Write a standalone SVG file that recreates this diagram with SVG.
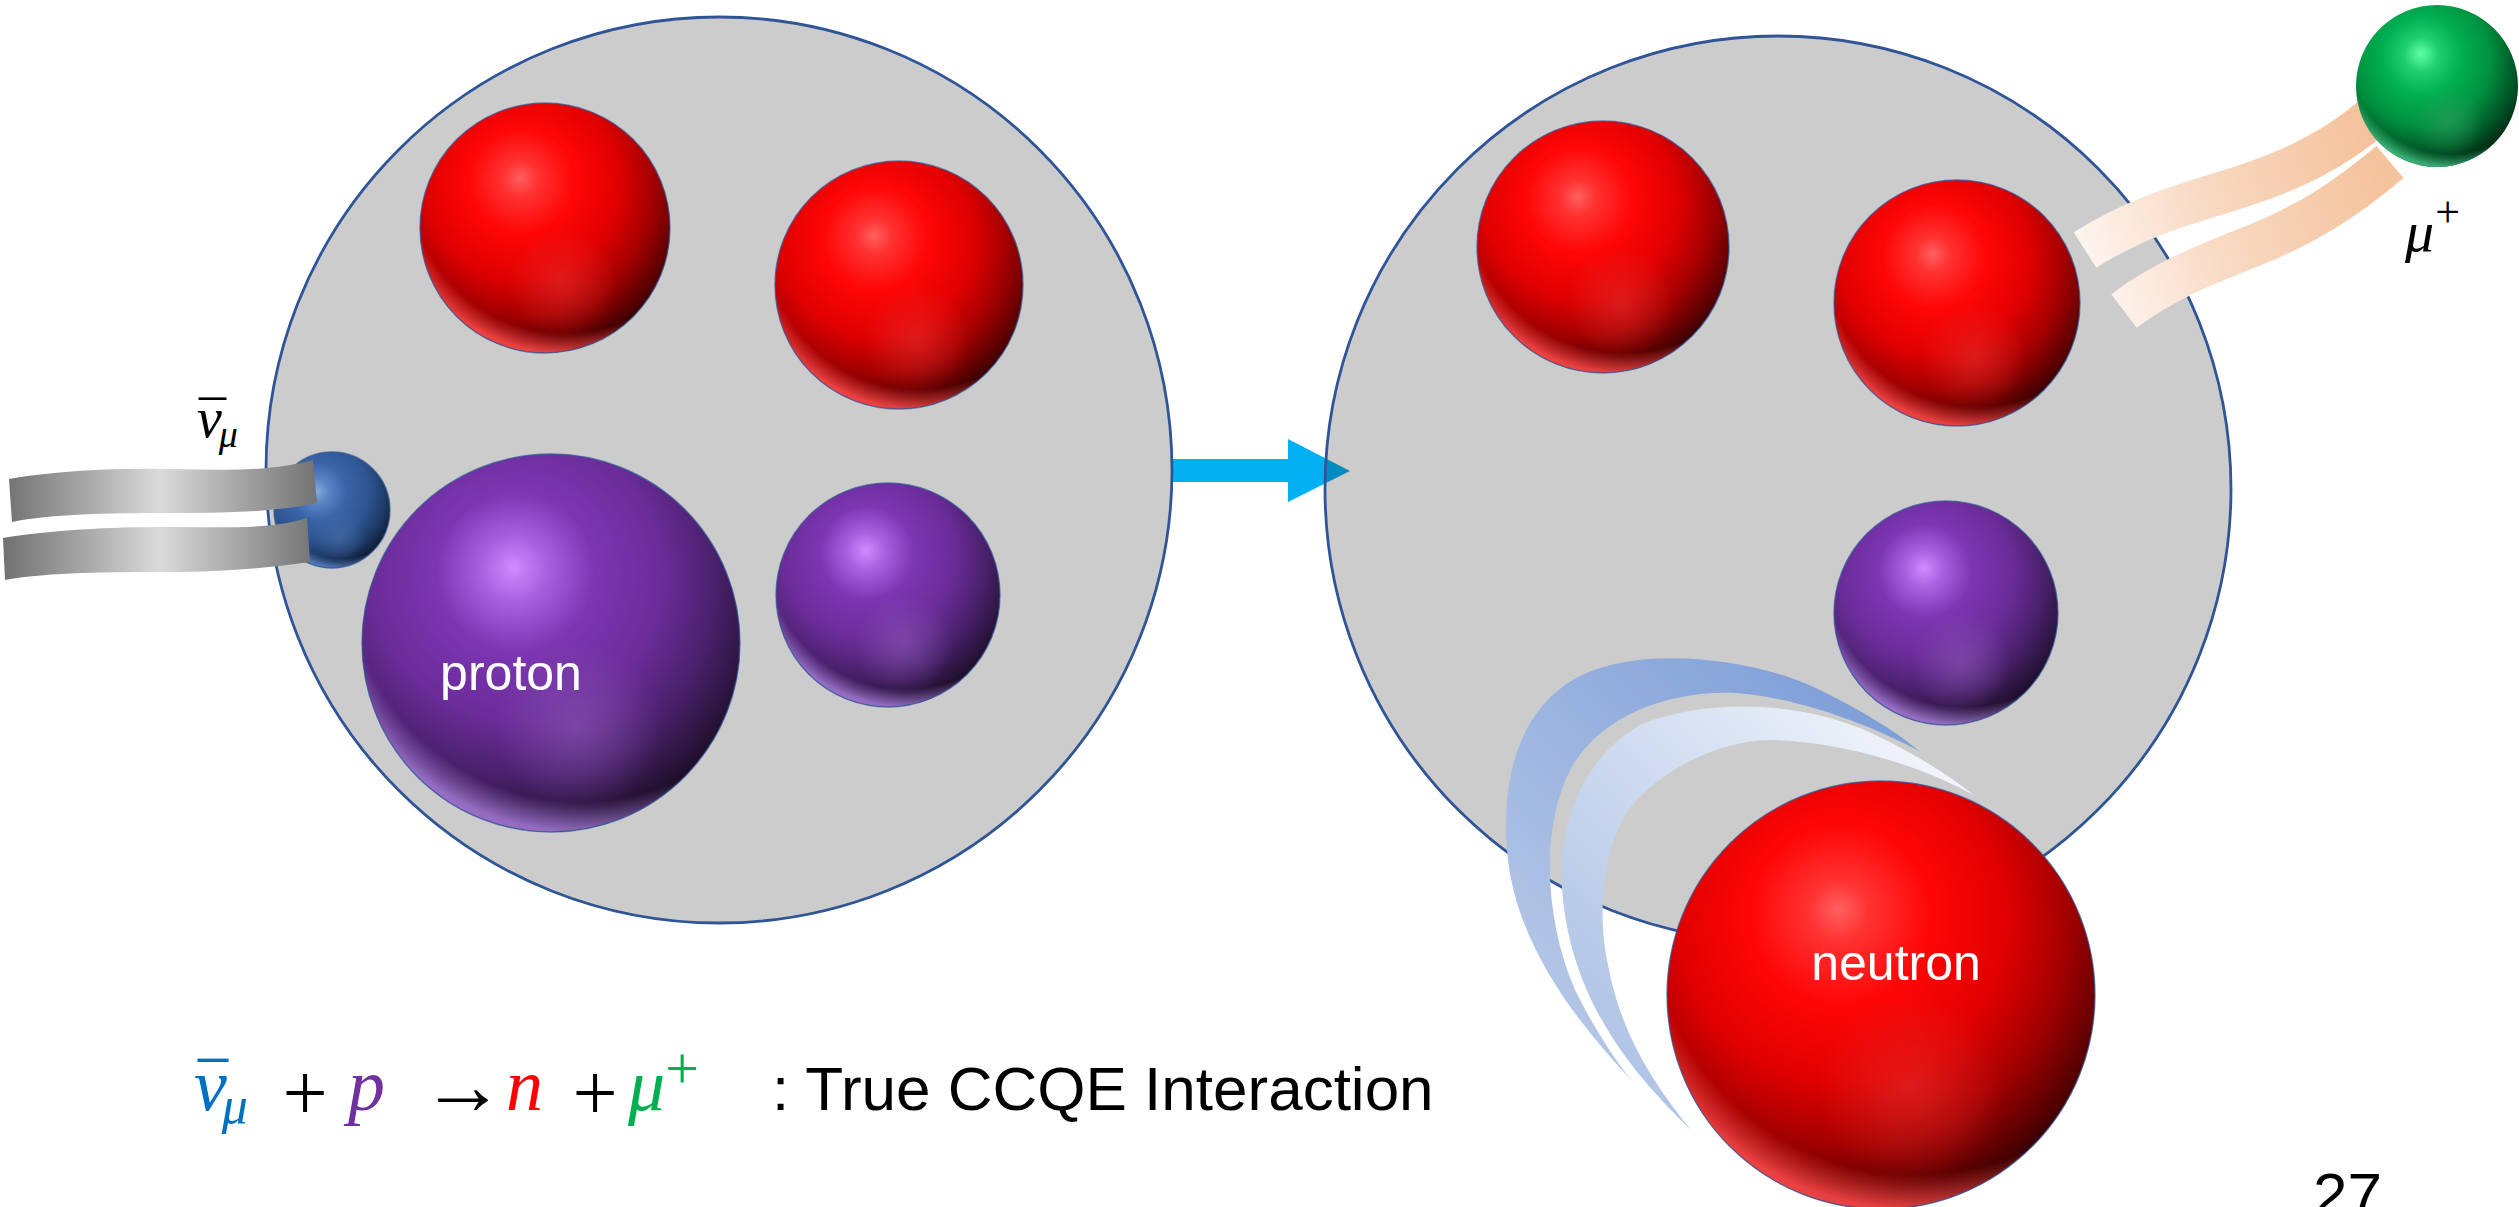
<svg xmlns="http://www.w3.org/2000/svg" xmlns:xlink="http://www.w3.org/1999/xlink" width="2519" height="1207" viewBox="0 0 2519 1207">
  <style>
    .nucleus { fill: #000; fill-opacity: 0.2; stroke: #2F5597; stroke-width: 2.8; }
    .edge { fill: none; stroke: #2F5597; stroke-opacity: 0.7; stroke-width: 1.4; vector-effect: non-scaling-stroke; }
    .label { font-family: "Liberation Sans", Arial, sans-serif; fill: #fff; font-size: 50px; text-anchor: middle; }
    .math { font-family: "Liberation Serif", "DejaVu Serif", serif; font-style: italic; }
    .op { font-family: "Liberation Serif", "DejaVu Serif", serif; font-style: normal; }
    .caption { font-family: "Liberation Sans", Arial, sans-serif; font-size: 62px; fill: #000; }
  </style>
  <defs>
    <!-- sphere shading: base body, bottom rim light, lower soft glow -->
    <radialGradient id="redBase" cx="0.42" cy="0.34" r="0.7" fx="0.4" fy="0.3">
      <stop offset="0" stop-color="#FF6060"/>
      <stop offset="0.1" stop-color="#FF3232"/>
      <stop offset="0.3" stop-color="#FF0606"/>
      <stop offset="0.55" stop-color="#E00000"/>
      <stop offset="0.75" stop-color="#A00000"/>
      <stop offset="0.92" stop-color="#520000"/>
      <stop offset="1" stop-color="#220000"/>
    </radialGradient>
    <radialGradient id="redRim" cx="0.58" cy="0.3" r="0.72">
      <stop offset="0.86" stop-color="#FF4A4A" stop-opacity="0"/>
      <stop offset="0.97" stop-color="#FF4A4A" stop-opacity="0.85"/>
      <stop offset="1" stop-color="#FF5050" stop-opacity="0.9"/>
    </radialGradient>
    <radialGradient id="redGlow" cx="0.57" cy="0.72" r="0.22">
      <stop offset="0" stop-color="#E83030" stop-opacity="0.55"/>
      <stop offset="1" stop-color="#E83030" stop-opacity="0"/>
    </radialGradient>

    <radialGradient id="purBase" cx="0.42" cy="0.34" r="0.7" fx="0.4" fy="0.3">
      <stop offset="0" stop-color="#D08CFF"/>
      <stop offset="0.12" stop-color="#A862E0"/>
      <stop offset="0.3" stop-color="#7C36B2"/>
      <stop offset="0.55" stop-color="#6A2C98"/>
      <stop offset="0.75" stop-color="#48206A"/>
      <stop offset="0.92" stop-color="#261236"/>
      <stop offset="1" stop-color="#120818"/>
    </radialGradient>
    <radialGradient id="purRim" cx="0.58" cy="0.3" r="0.72">
      <stop offset="0.86" stop-color="#A57BD8" stop-opacity="0"/>
      <stop offset="0.97" stop-color="#A57BD8" stop-opacity="0.85"/>
      <stop offset="1" stop-color="#A57BD8" stop-opacity="0.9"/>
    </radialGradient>
    <radialGradient id="purGlow" cx="0.57" cy="0.72" r="0.22">
      <stop offset="0" stop-color="#8A58B4" stop-opacity="0.6"/>
      <stop offset="1" stop-color="#8A58B4" stop-opacity="0"/>
    </radialGradient>

    <radialGradient id="bluBase" cx="0.42" cy="0.34" r="0.7" fx="0.36" fy="0.34">
      <stop offset="0" stop-color="#86AEE0"/>
      <stop offset="0.15" stop-color="#5A84C4"/>
      <stop offset="0.35" stop-color="#3A64A8"/>
      <stop offset="0.6" stop-color="#2E5592"/>
      <stop offset="0.8" stop-color="#1E3A66"/>
      <stop offset="1" stop-color="#0A1424"/>
    </radialGradient>
    <radialGradient id="bluRim" cx="0.58" cy="0.3" r="0.72">
      <stop offset="0.86" stop-color="#5B86C8" stop-opacity="0"/>
      <stop offset="0.97" stop-color="#5B86C8" stop-opacity="0.85"/>
      <stop offset="1" stop-color="#5B86C8" stop-opacity="0.9"/>
    </radialGradient>
    <radialGradient id="bluGlow" cx="0.57" cy="0.72" r="0.22">
      <stop offset="0" stop-color="#4A6EA8" stop-opacity="0.6"/>
      <stop offset="1" stop-color="#4A6EA8" stop-opacity="0"/>
    </radialGradient>

    <radialGradient id="grnBase" cx="0.42" cy="0.34" r="0.7" fx="0.4" fy="0.3">
      <stop offset="0" stop-color="#60FFA8"/>
      <stop offset="0.15" stop-color="#20D070"/>
      <stop offset="0.35" stop-color="#00B050"/>
      <stop offset="0.6" stop-color="#00903F"/>
      <stop offset="0.8" stop-color="#005A28"/>
      <stop offset="1" stop-color="#002010"/>
    </radialGradient>
    <radialGradient id="grnRim" cx="0.58" cy="0.3" r="0.72">
      <stop offset="0.86" stop-color="#40C080" stop-opacity="0"/>
      <stop offset="0.97" stop-color="#40C080" stop-opacity="0.85"/>
      <stop offset="1" stop-color="#40C080" stop-opacity="0.9"/>
    </radialGradient>
    <radialGradient id="grnGlow" cx="0.57" cy="0.72" r="0.22">
      <stop offset="0" stop-color="#30A060" stop-opacity="0.6"/>
      <stop offset="1" stop-color="#30A060" stop-opacity="0"/>
    </radialGradient>

    <!-- unit spheres, placed with translate + scale -->
    <g id="redBall">
      <circle r="1" fill="url(#redBase)"/>
      <circle r="1" fill="url(#redRim)"/>
      <circle r="1" fill="url(#redGlow)"/>
      <circle r="1" class="edge"/>
    </g>
    <g id="purBall">
      <circle r="1" fill="url(#purBase)"/>
      <circle r="1" fill="url(#purRim)"/>
      <circle r="1" fill="url(#purGlow)"/>
      <circle r="1" class="edge"/>
    </g>
    <g id="bluBall">
      <circle r="1" fill="url(#bluBase)"/>
      <circle r="1" fill="url(#bluRim)"/>
      <circle r="1" fill="url(#bluGlow)"/>
      <circle r="1" class="edge"/>
    </g>
    <g id="grnBall">
      <circle r="1" fill="url(#grnBase)"/>
      <circle r="1" fill="url(#grnRim)"/>
      <circle r="1" fill="url(#grnGlow)"/>
    </g>

    <!-- trails -->
    <linearGradient id="greyTrail" gradientUnits="userSpaceOnUse" x1="0" y1="0" x2="320" y2="0">
      <stop offset="0" stop-color="#6E6E6E"/>
      <stop offset="0.5" stop-color="#DADADA"/>
      <stop offset="1" stop-color="#707070"/>
    </linearGradient>
    <linearGradient id="peachTrail" gradientUnits="userSpaceOnUse" x1="2085" y1="250" x2="2370" y2="140">
      <stop offset="0" stop-color="#FDF4EE"/>
      <stop offset="0.45" stop-color="#F8D8C0"/>
      <stop offset="1" stop-color="#F4C29C"/>
    </linearGradient>
    <linearGradient id="blueTrailOuter" gradientUnits="userSpaceOnUse" x1="1910" y1="700" x2="1550" y2="1060">
      <stop offset="0" stop-color="#7A9CD6"/>
      <stop offset="1" stop-color="#B9CAE8"/>
    </linearGradient>
    <linearGradient id="blueTrailInner" gradientUnits="userSpaceOnUse" x1="1960" y1="760" x2="1600" y2="1110">
      <stop offset="0" stop-color="#F4F7FC"/>
      <stop offset="0.4" stop-color="#D3DEF1"/>
      <stop offset="1" stop-color="#A9BFE4"/>
    </linearGradient>
  </defs>

  <rect width="2519" height="1207" fill="#fff"/>

  <!-- transition arrow between the two nuclei -->
  <g id="connectors">
    <path d="M1173 459 H1288 V439 L1350 471 L1288 502 V482 H1173 Z" fill="#00B0F0"/>
  </g>

  <!-- nucleus before the interaction -->
  <g id="nucleus-before">
    <circle class="nucleus" cx="719" cy="470" r="453"/>
    <use href="#redBall" transform="translate(545 228) scale(125)"/>
    <use href="#redBall" transform="translate(899 285) scale(124)"/>
    <use href="#purBall" transform="translate(888 595) scale(112)"/>
  </g>

  <g id="proton">
    <use href="#purBall" transform="translate(551 643) scale(189)"/>
    <text class="label" x="511" y="690">proton</text>
  </g>

  <g id="antineutrino">
    <use href="#bluBall" transform="translate(332 510) scale(58)"/>
    <path d="M9 479 C60 470 120 468 170 469 C220 470 270 472 313 460 L317 503 C270 513 220 513 167 513 C110 513 50 514 12 522 Z" fill="url(#greyTrail)"/>
    <path d="M3 538 C50 530 110 527 167 527 C220 527 270 530 307 518 L310 562 C270 568 220 572 167 572 C110 572 50 572 5 580 Z" fill="url(#greyTrail)"/>
    <text class="math" x="197" y="437" font-size="56">ν<tspan font-size="38" dx="-3" dy="10">μ</tspan><tspan class="op" font-size="56" x="199" y="441" textLength="27" lengthAdjust="spacingAndGlyphs">¯</tspan></text>
  </g>

  <!-- nucleus after the interaction -->
  <g id="nucleus-after">
    <circle class="nucleus" cx="1778" cy="489" r="453"/>
    <use href="#redBall" transform="translate(1603 247) scale(126)"/>
    <use href="#redBall" transform="translate(1957 303) scale(123)"/>
    <use href="#purBall" transform="translate(1946 613) scale(112)"/>
  </g>

  <g id="muon">
    <path d="M2085 250 C2140 215 2190 203 2240 187 S2335 150 2376 114" fill="none" stroke="url(#peachTrail)" stroke-width="42"/>
    <path d="M2124 311 C2165 280 2205 265 2255 245 S2345 200 2390 162" fill="none" stroke="url(#peachTrail)" stroke-width="42"/>
    <use href="#grnBall" transform="translate(2437 86) scale(81)"/>
    <text class="math" x="2405" y="251" font-size="58">μ<tspan class="op" font-size="44" dx="1" dy="-24">+</tspan></text>
  </g>

  <g id="neutron">
    <path d="M1633 1082 C1585 1030 1515 950 1507 850 C1500 760 1530 690 1600 668 C1660 648 1760 660 1820 690 C1860 710 1895 730 1919 751 C1870 725 1800 698 1736 693 C1670 690 1600 715 1570 770 C1540 830 1545 920 1575 990 C1595 1030 1615 1060 1633 1082 Z" fill="url(#blueTrailOuter)"/>
    <path d="M1691 1130 C1640 1080 1575 1010 1563 900 C1555 830 1580 760 1640 725 C1700 700 1790 700 1860 728 C1905 748 1945 772 1975 796 C1930 770 1850 742 1771 740 C1720 740 1660 770 1630 808 C1600 850 1598 920 1608 965 C1620 1030 1650 1080 1691 1130 Z" fill="url(#blueTrailInner)"/>
    <use href="#redBall" transform="translate(1881 995) scale(214)"/>
    <text class="label" x="1896" y="980">neutron</text>
  </g>

  <!-- reaction equation -->
  <g id="equation">
    <text class="math" x="194" y="1110" font-size="74" fill="#0070C0">ν<tspan font-size="52" dx="-5" dy="13">μ</tspan><tspan class="op" font-size="74" x="198" y="1115" textLength="30" lengthAdjust="spacingAndGlyphs">¯</tspan></text>
    <text class="op" x="305" y="1120" font-size="80" text-anchor="middle">+</text>
    <text class="math" x="348" y="1110" font-size="74" fill="#7030A0">p</text>
    <text class="op" x="463" y="1114" font-size="84" text-anchor="middle">→</text>
    <text class="math" x="506" y="1110" font-size="74" fill="#FF0000">n</text>
    <text class="op" x="595" y="1120" font-size="80" text-anchor="middle">+</text>
    <text class="math" x="628" y="1110" font-size="74" fill="#00B050">μ<tspan class="op" font-size="60" dx="0" dy="-22">+</tspan></text>
    <text class="caption" x="772" y="1110">: True CCQE Interaction</text>
  </g>

  <text class="caption" x="2313" y="1216" font-size="54">27</text>
</svg>
